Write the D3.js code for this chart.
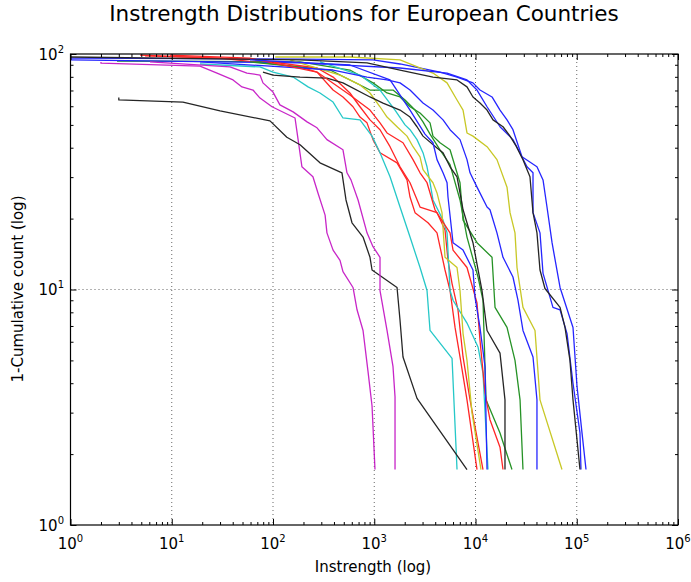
<!DOCTYPE html>
<html><head><meta charset="utf-8">
<script src="https://cdn.jsdelivr.net/npm/d3@7"></script>
<style>body{margin:0;background:#fff} svg text{font-family:"DejaVu Sans",sans-serif;fill:#000}</style>
</head><body><svg id="c" width="691" height="582"></svg>
<script>
const titleText = "Instrength Distributions for European Countries";
const xLabelText = "Instrength (log)";
const yLabelText = "1-Cumulative count (log)";
const xTickExps = [0,1,2,3,4,5,6];
const yTickExps = [0,1,2];

// series: [instrength, 1-cumulative count]
const blue4 = [[1,96.1],[185,95.2],[972,94.4],[1797,90.7],[4460,83.8],[6568,79.8],[9441,75.4],[11070,70.3],[14560,65.7],[17460,57.8],[20480,52.5],[23440,47.7],[28770,36.6],[40460,33.2],[46450,29.2],[50820,22.4],[57020,15.8],[68390,10.2],[91830,6.9],[100500,3.9],[112700,2.46],[123400,1.72]];
const green2 = [[2.88,93.4],[185,92.6],[575,85.5],[972,75.4],[1337,68.3],[1797,65.7],[2256,59.7],[2832,56.2],[3556,51.0],[3802,44.8],[4460,42.0],[5604,39.2],[7031,28.4],[7533,19.7],[10350,15.8],[14560,13.7],[15590,8.4],[20480,6.9],[24550,5.0],[27540,3.4],[29440,1.72]];
const red1 = [[4.86,99.0],[30,96.1],[185,88.1],[272,83.8],[392,70.3],[491,65.7],[617,59.7],[723,54.0],[848,51.0],[972,43.3],[1140,38.1],[1679,34.5],[2106,29.2],[2256,24.7],[2527,21.2],[3396,19.2],[4167,17.4],[5000,12.1],[5604,9.9],[6281,6.9],[7031,5.17],[8241,3.4],[10350,1.72]];
const cyan1 = [[19,90.7],[74.4,88.1],[100,83.8],[158,79.8],[222,72.5],[291,68.3],[392,62.5],[491,53.5],[723,52.5],[951,44.8],[1140,38.1],[1432,30.1],[1797,22.4],[2256,16.7],[2832,12.4],[3320,9.9],[3556,6.7],[5866,5.1],[6568,1.72]];
const magenta1 = [[2,92.5],[2,91.4],[19,88.9],[28,83.0],[40.3,77.6],[49.4,72.5],[63.5,70.3],[74.4,65.0],[97.8,59.7],[165,53.5],[177,43.3],[193,33.2],[248,30.1],[278,25.7],[327,20.7],[341,17.4],[392,14.7],[459,13.3],[491,11.9],[617,10.2],[676,8.2],[775,6.7],[867,4.5],[951,3.2],[1017,1.72]];
const yellow2 = [[105,97.1],[575,97.1],[1797,94.4],[3802,83.0],[5236,75.4],[6568,63.8],[7533,57.8],[8241,46.2],[9441,44.8],[13000,40.4],[16290,35.6],[20480,27.2],[21930,21.2],[24550,17.4],[25700,12.4],[29440,8.4],[38700,6.7],[43350,3.4],[71450,1.72]];
const black1 = [[3,65.3],[3,63.8],[12.9,62.5],[30,57.3],[93.4,52.0],[137,44.3],[185,41.2],[291,34.5],[480,31.3],[526,24.0],[603,19.2],[775,16.7],[908,13.7],[951,12.1],[1679,10.2],[1797,7.4],[1923,5.17],[2645,3.45],[8241,1.72]];
const blue3 = [[1,94.4],[185,91.6],[1797,87.2],[5236,83.0],[8241,77.6],[10350,70.3],[13000,59.7],[17460,49.1],[23440,43.3],[32280,33.2],[36980,31.3],[36980,21.2],[43350,17.4],[46450,11.7],[58210,8.4],[68390,8.2],[80170,6.5],[91830,4.0],[107600,2.46],[110100,1.72]];
const green1 = [[59.3,92.6],[366,85.5],[908,70.3],[1532,70.3],[2014,63.8],[2527,57.8],[3030,51.5],[3556,45.7],[4460,39.2],[5604,33.9],[7031,24.0],[8241,16.7],[10590,11.3],[11860,9.0],[12700,3.4],[17460,2.46],[22910,1.72]];
const red2 = [[5.44,98.1],[59.3,95.2],[272,87.2],[392,79.8],[575,68.3],[723,59.7],[908,52.5],[1140,47.7],[1432,40.4],[1797,33.2],[2256,28.4],[2832,22.4],[4167,21.2],[5000,17.9],[5350,13.3],[5866,10.6],[6714,8.2],[7533,5.17],[8831,3.4],[11860,1.72]];
const cyan2 = [[291,92.6],[723,81.4],[1140,70.3],[1604,57.8],[2014,50.0],[2256,47.7],[2645,43.3],[3030,38.1],[3320,33.2],[3556,28.4],[3802,24.0],[4779,19.7],[5236,17.4],[5604,9.9],[6000,9.0],[8241,7.2],[10590,5.7],[11860,4.42],[13290,1.72]];
const magenta2 = [[6.1,92.6],[37.6,88.1],[55.3,83.0],[74.4,81.4],[79.6,75.4],[100,68.9],[117,60.8],[158,56.8],[217,51.5],[272,48.6],[341,43.3],[491,39.2],[538,31.3],[589,29.2],[692,24.0],[848,17.4],[972,15.2],[1140,13.7],[1140,9.9],[1337,6.7],[1532,4.7],[1604,3.5],[1604,1.72]];
const yellow1 = [[147,94.4],[459,81.4],[723,73.9],[908,68.3],[1140,59.7],[1337,54.0],[1679,49.1],[2106,44.8],[2415,40.4],[2832,36.6],[3030,32.3],[3802,28.4],[4167,25.7],[4667,21.2],[5000,13.7],[6568,12.4],[7031,9.9],[7533,6.5],[8241,5.0],[9235,3.0],[11330,1.72]];
const black2 = [[79.6,83.8],[100,81.4],[185,79.8],[341,79.0],[491,75.4],[908,65.7],[1220,61.9],[1797,57.8],[2256,54.0],[2645,49.1],[3030,44.8],[4167,39.9],[4779,38.1],[5604,33.2],[6568,30.1],[7031,25.7],[7533,21.8],[9441,15.8],[11590,9.9],[13000,6.7],[17460,5.37],[19550,3.4],[19550,1.72]];
const blue2 = [[19,92.6],[392,85.5],[848,79.8],[1337,77.6],[1797,75.4],[2256,70.3],[3030,61.9],[3802,57.8],[4779,52.5],[5604,47.7],[7031,43.3],[8241,35.6],[8831,31.3],[10350,27.2],[13000,22.4],[13900,21.8],[16290,17.4],[18690,13.7],[23440,11.3],[26290,9.0],[29440,6.7],[36980,5.17],[40460,3.4],[40460,1.72]];
const red3 = [[9.6,99.0],[59.3,96.1],[272,83.8],[575,67.0],[908,57.8],[1140,51.0],[1337,46.2],[1923,42.0],[2415,35.6],[2832,31.3],[3320,28.4],[3982,21.8],[5604,17.4],[6000,14.7],[8241,12.4],[10350,8.76],[11070,6.1],[12420,3.64],[13900,2.8],[17460,2.14],[18690,1.72]];
const black3 = [[1,97.1],[185,94.4],[848,91.6],[1797,85.5],[3802,79.8],[6568,77.6],[8241,72.5],[9441,65.7],[11070,61.9],[13000,57.8],[14890,52.5],[18690,49.1],[21930,44.8],[25400,40.4],[29440,35.6],[34510,30.1],[36980,21.2],[40460,17.4],[43350,12.1],[48530,10.1],[68390,8.4],[76560,6.9],[85700,5.0],[91830,3.4],[107600,1.72]];
const blue1 = [[59.3,94.4],[575,89.8],[1432,77.6],[2256,57.8],[3171,45.7],[3802,42.0],[4167,35.6],[4779,31.3],[5236,28.4],[5350,24.7],[6000,15.8],[7533,14.7],[9441,12.1],[9886,9.29],[11070,6.9],[12420,4.7],[13000,1.72]];

const seriesList = [blue4, green2, red1, cyan1, magenta1, yellow2, black1, blue3, green1, red2, cyan2, magenta2, yellow1, black2, blue2, red3, black3, blue1];
const seriesColors = ["#0000ff","#008000","#ff0000","#00bfbf","#bf00bf","#bfbf00","#000000","#0000ff","#008000","#ff0000","#00bfbf","#bf00bf","#bfbf00","#000000","#0000ff","#ff0000","#000000","#0000ff"];

const svg = d3.select("#c");
const L = 70.5, R = 678, T = 54, B = 525;
const x = d3.scaleLog().domain([1, 1e6]).range([L, R]);
const y = d3.scaleLog().domain([1, 100]).range([B, T]);

// grid
const grid = svg.append("g").attr("stroke", "#000").attr("stroke-width", 0.6).attr("stroke-dasharray", "1,3");
xTickExps.slice(1, -1).forEach(e => grid.append("line").attr("x1", x(10 ** e)).attr("x2", x(10 ** e)).attr("y1", T).attr("y2", B));
yTickExps.slice(1, -1).forEach(e => grid.append("line").attr("y1", y(10 ** e)).attr("y2", y(10 ** e)).attr("x1", L).attr("x2", R));

// lines
const line = d3.line().x(d => x(d[0])).y(d => y(d[1]));
const lg = svg.append("g").attr("fill", "none").attr("stroke-width", 1.3).attr("stroke-linejoin", "round").attr("opacity", 0.85);
seriesList.forEach((s, i) => lg.append("path").attr("d", line(s)).attr("stroke", seriesColors[i]));

// axes with inward ticks
const xMajors = xTickExps.map(e => 10 ** e);
const yMajors = yTickExps.map(e => 10 ** e);
const xMinors = [], yMinors = [];
xTickExps.slice(0, -1).forEach(e => { for (let k = 2; k < 10; k++) xMinors.push(k * 10 ** e); });
yTickExps.slice(0, -1).forEach(e => { for (let k = 2; k < 10; k++) yMinors.push(k * 10 ** e); });

function ax(gen, scale, vals, size, tx, ty) {
  const g = svg.append("g").attr("transform", `translate(${tx},${ty})`)
    .call(gen(scale).tickValues(vals).tickSize(-size).tickFormat(""));
  g.select(".domain").remove();
  g.selectAll("line").attr("stroke", "#000").attr("stroke-width", 1);
}
ax(d3.axisBottom, x, xMajors, 6, 0, B); ax(d3.axisBottom, x, xMinors, 3, 0, B);
ax(d3.axisTop, x, xMajors, 6, 0, T); ax(d3.axisTop, x, xMinors, 3, 0, T);
ax(d3.axisLeft, y, yMajors, 6, L, 0); ax(d3.axisLeft, y, yMinors, 3, L, 0);
ax(d3.axisRight, y, yMajors, 6, R, 0); ax(d3.axisRight, y, yMinors, 3, R, 0);

svg.append("rect").attr("x", L).attr("y", T).attr("width", R - L).attr("height", B - T)
  .attr("fill", "none").attr("stroke", "#000").attr("stroke-width", 1.2);

// tick labels
xTickExps.forEach(e => {
  const t = svg.append("text").attr("x", x(10 ** e)).attr("y", 549).attr("text-anchor", "middle").attr("font-size", 15);
  t.append("tspan").text("10");
  t.append("tspan").attr("font-size", 10).attr("dy", -7).text(e);
});
yTickExps.forEach(e => {
  const t = svg.append("text").attr("x", 64).attr("y", y(10 ** e) + 5.5).attr("text-anchor", "end").attr("font-size", 15);
  t.append("tspan").text("10");
  t.append("tspan").attr("font-size", 10).attr("dy", -7).text(e);
});

svg.append("text").attr("x", 364).attr("y", 21).attr("text-anchor", "middle").attr("font-size", 21.5).text(titleText);
svg.append("text").attr("x", 373).attr("y", 572).attr("text-anchor", "middle").attr("font-size", 15).text(xLabelText);
svg.append("text").attr("transform", "translate(23,289) rotate(-90)").attr("text-anchor", "middle").attr("font-size", 15).text(yLabelText);
</script></body></html>
